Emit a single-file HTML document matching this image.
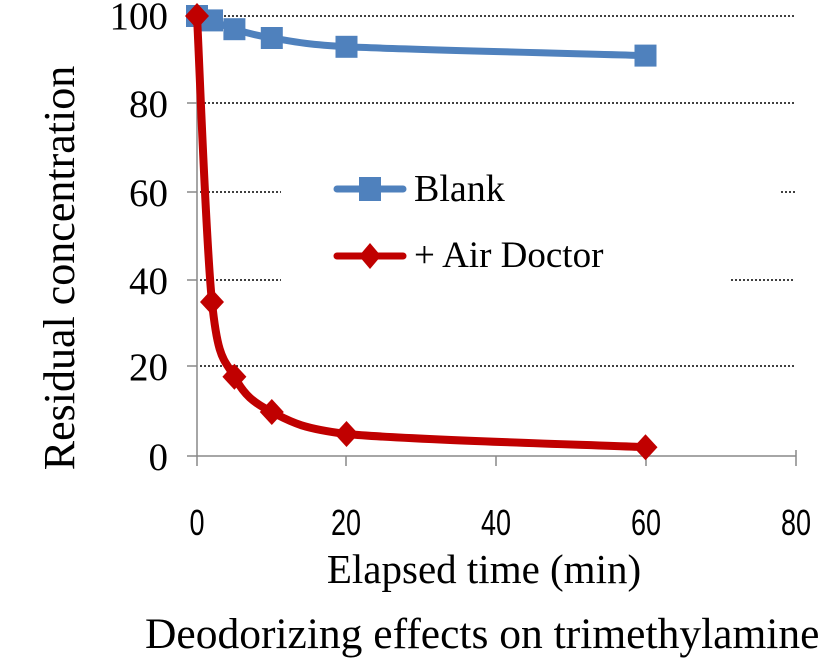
<!DOCTYPE html>
<html><head><meta charset="utf-8"><style>
html,body{margin:0;padding:0;background:#fff;width:824px;height:658px;overflow:hidden}
</style></head><body>
<svg width="824" height="658" xmlns="http://www.w3.org/2000/svg">
<g stroke="#000" stroke-width="1.5" stroke-dasharray="2,2">
<line x1="200" y1="16" x2="795" y2="16"/>
<line x1="200" y1="103" x2="795" y2="103"/>
<line x1="200" y1="192" x2="281" y2="192"/>
<line x1="781" y1="192" x2="795" y2="192"/>
<line x1="200" y1="280" x2="281" y2="280"/>
<line x1="731" y1="280" x2="795" y2="280"/>
<line x1="200" y1="366" x2="795" y2="366"/>
</g>
<g stroke="#888" stroke-width="1.5">
<line x1="197" y1="12" x2="197" y2="466"/>
<line x1="187" y1="456" x2="796" y2="456"/>
<line x1="187" y1="103" x2="197" y2="103"/>
<line x1="187" y1="192" x2="197" y2="192"/>
<line x1="187" y1="280" x2="197" y2="280"/>
<line x1="187" y1="366" x2="197" y2="366"/>
<line x1="346" y1="456" x2="346" y2="466"/>
<line x1="496" y1="456" x2="496" y2="466"/>
<line x1="646" y1="456" x2="646" y2="466"/>
<line x1="796" y1="450" x2="796" y2="466"/>
</g>
<g font-family="Liberation Serif, serif" font-size="39" text-anchor="end" fill="#000">
<text x="168" y="29">100</text>
<text x="168" y="117">80</text>
<text x="168" y="206">60</text>
<text x="168" y="294">40</text>
<text x="168" y="380">20</text>
<text x="168" y="470">0</text>
</g>
<g font-family="Liberation Sans Narrow, Liberation Sans, sans-serif" font-size="36" text-anchor="middle" fill="#000">
<text transform="translate(197,535) scale(0.75,1)">0</text>
<text transform="translate(346,535) scale(0.75,1)">20</text>
<text transform="translate(496,535) scale(0.75,1)">40</text>
<text transform="translate(646,535) scale(0.75,1)">60</text>
<text transform="translate(796,535) scale(0.75,1)">80</text>
</g>
<text transform="translate(74,268) rotate(-90)" font-family="Liberation Serif, serif" font-size="44" text-anchor="middle">Residual concentration</text>
<text x="484" y="583" font-family="Liberation Serif, serif" font-size="41" text-anchor="middle">Elapsed time (min)</text>
<text x="145" y="648" font-family="Liberation Serif, serif" font-size="43.5">Deodorizing effects on trimethylamine</text>
<path d="M197,16 C199.5,16.7 205.8,18.2 212,20.4 C218.2,22.6 224.4,26.3 234.4,29.2 C244.4,32.1 253.1,35.1 271.8,38 C290.5,40.9 300,44 346.5,46.8 C408.8,49.7 595.7,54.1 645.5,55.6" fill="none" stroke="#4f81bd" stroke-width="7" stroke-linecap="round"/>
<g fill="#4f81bd">
<rect x="186" y="5" width="22" height="22"/>
<rect x="201" y="9.4" width="22" height="22"/>
<rect x="223.4" y="18.2" width="22" height="22"/>
<rect x="260.8" y="27" width="22" height="22"/>
<rect x="335.5" y="35.8" width="22" height="22"/>
<rect x="634.5" y="44.6" width="22" height="22"/>
</g>
<path d="M197,16 C199.5,63.7 205.8,241.9 212,302 C218.2,362.1 224.4,358.5 234.4,376.8 C244.4,395.1 253.1,402.5 271.8,412 C290.5,421.5 300,428.1 346.5,434 C408.8,439.9 595.7,445 645.5,447.2" fill="none" stroke="#c00000" stroke-width="8" stroke-linecap="round"/>
<g fill="#c00000">
<polygon points="197,3 209,16 197,29 185,16"/>
<polygon points="212,289 224,302 212,315 200,302"/>
<polygon points="234.4,363.8 246.4,376.8 234.4,389.8 222.4,376.8"/>
<polygon points="271.8,399 283.8,412 271.8,425 259.8,412"/>
<polygon points="346.5,421 358.5,434 346.5,447 334.5,434"/>
<polygon points="645.5,434.2 657.5,447.2 645.5,460.2 633.5,447.2"/>
</g>
<line x1="337" y1="189" x2="403" y2="189" stroke="#4f81bd" stroke-width="7" stroke-linecap="round"/>
<rect x="359" y="177" width="22" height="24" fill="#4f81bd"/>
<line x1="337" y1="256" x2="403" y2="256" stroke="#c00000" stroke-width="7" stroke-linecap="round"/>
<polygon points="370,243 381,256 370,269 359,256" fill="#c00000"/>
<text x="414" y="201" font-family="Liberation Serif, serif" font-size="38">Blank</text>
<text x="414" y="267" font-family="Liberation Serif, serif" font-size="37">+ Air Doctor</text>
</svg>
</body></html>
